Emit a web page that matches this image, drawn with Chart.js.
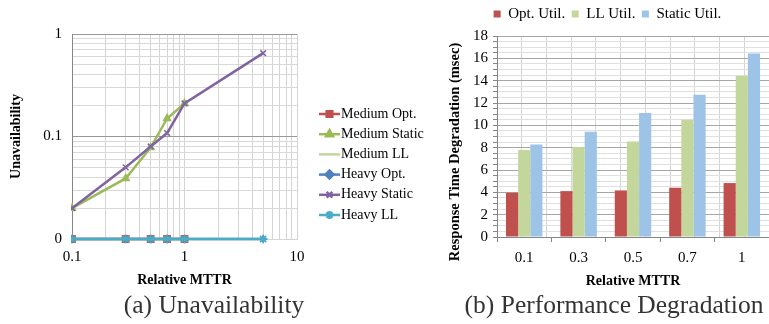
<!DOCTYPE html>
<html lang="en">
<head>
<meta charset="UTF-8">
<title>Unavailability and Performance Degradation</title>
<script src="https://cdn.jsdelivr.net/npm/chart.js"></script>
<style>
  body { margin: 0; background: #fff; }
  .page { position: relative; width: 769px; height: 324px; overflow: hidden; font-family: "Liberation Serif", serif; }
  .box { position: absolute; top: 0; height: 295px; }
  #boxA { left: 0; width: 430px; }
  #boxB { left: 430px; width: 339px; }
  .caption { position: absolute; top: 290px; height: 30px; line-height: 30px; font-size: 25.5px; color: #333; text-align: center; }
</style>
</head>
<body>
<div class="page">
  <div class="box" id="boxA"><canvas id="grafUnavail"></canvas></div>
  <div class="box" id="boxB"><canvas id="grafPerf"></canvas></div>
  <div class="caption" style="left:0;width:428px">(a) Unavailability</div>
  <div class="caption" style="left:460px;width:308px">(b) Performance Degradation</div>
</div>
<script>
// (a) Unavailability vs relative MTTR (log-log)
const mttrMedium = [0.1, 0.3, 0.5, 0.7, 1];
const mttrHeavy = [0.1, 0.3, 0.5, 0.7, 1, 5];
const mediumOpt = [0.01, 0.01, 0.01, 0.01, 0.01];
const mediumStatic = [0.02, 0.039, 0.078, 0.15, 0.21];
const mediumLL = [0.01, 0.01, 0.01, 0.01, 0.01];
const heavyOpt = [0.01, 0.01, 0.01, 0.01, 0.01, 0.01];
const heavyStatic = [0.02, 0.05, 0.08, 0.108, 0.21, 0.65];
const heavyLL = [0.01, 0.01, 0.01, 0.01, 0.01, 0.01];
const unavailTicks = [0.01, 0.1, 1];
const unavailTickLabels = ['0', '0.1', '1'];
const mttrTicks = [0.1, 1, 10];
const mttrTickLabels = ['0.1', '1', '10'];

// (b) Response time degradation per relative MTTR
const mttrCategories = ['0.1', '0.3', '0.5', '0.7', '1'];
const optUtil = [3.96, 4.11, 4.17, 4.41, 4.83];
const llUtil = [7.8, 8.07, 8.55, 10.5, 14.43];
const staticUtil = [8.28, 9.42, 11.1, 12.75, 16.44];

const SERIF = '"Liberation Serif", "Times New Roman", serif';
Chart.defaults.font.family = SERIF;
Chart.defaults.color = '#000';

function pts(xs, ys) {
  return xs.map((x, i) => ({ x: x, y: ys[i] }));
}

// 1..9 x 10^n grid between two decades
function logGrid(lo, hi) {
  const out = [];
  for (let d = lo; d < hi * 0.999; d *= 10) {
    for (let k = 1; k < 10; k++) out.push(+(d * k).toPrecision(3));
  }
  out.push(hi);
  return out;
}

function line(label, xs, ys, color, style, radius, order) {
  return {
    label: label,
    data: pts(xs, ys),
    borderColor: color,
    backgroundColor: color,
    borderWidth: 2.5,
    pointStyle: style,
    pointRadius: radius,
    pointBorderWidth: 1.5,
    clip: { left: 1, top: 10, right: 10, bottom: 10 },
    order: order
  };
}

// legend drawn as line + marker like the original
const lineLegend = {
  id: 'lineLegend',
  afterDraw(chart) {
    const ctx = chart.ctx;
    ctx.save();
    chart.data.datasets.forEach((ds, i) => {
      const y = 114 + i * 20.2;
      ctx.strokeStyle = ds.borderColor;
      ctx.lineWidth = 2.5;
      ctx.beginPath();
      ctx.moveTo(319, y);
      ctx.lineTo(340, y);
      ctx.stroke();
      if (ds.pointStyle) {
        ctx.fillStyle = ds.backgroundColor;
        Chart.helpers.drawPoint(ctx, { pointStyle: ds.pointStyle, radius: 4, borderWidth: 1.5, rotation: 0 }, 329.5, y);
      }
      ctx.fillStyle = '#000';
      ctx.font = '14px ' + SERIF;
      ctx.textBaseline = 'middle';
      ctx.textAlign = 'left';
      ctx.fillText(ds.label, 341, y);
    });
    ctx.restore();
  }
};

new Chart(grafUnavail, {
  type: 'line',
  data: {
    datasets: [
      line('Medium Opt.', mttrMedium, mediumOpt, '#C0504D', 'rect', 4.5, 6),
      line('Medium Static', mttrMedium, mediumStatic, '#9BBB59', 'triangle', 4, 5),
      line('Medium LL', mttrMedium, mediumLL, '#C3D69B', false, 0, 4),
      line('Heavy Opt.', mttrHeavy, heavyOpt, '#4F81BD', 'rectRot', 3, 3),
      line('Heavy Static', mttrHeavy, heavyStatic, '#8064A2', 'crossRot', 4, 2),
      line('Heavy LL', mttrHeavy, heavyLL, '#4BACC6', 'star', 4.5, 1)
    ]
  },
  options: {
    responsive: true,
    maintainAspectRatio: false,
    animation: false,
    layout: { padding: { left: 0, top: 34, right: 133, bottom: 0 } },
    plugins: { legend: { display: false }, tooltip: { enabled: false } },
    scales: {
      x: {
        type: 'logarithmic',
        min: 0.1,
        max: 10,
        afterBuildTicks: s => { s.ticks = logGrid(0.1, 10).map(v => ({ value: v, major: mttrTicks.includes(v) })); },
        afterFit: s => { s.height = 56; },
        ticks: {
          autoSkip: false,
          maxRotation: 0,
          padding: 9,
          font: { size: 15 },
          callback: v => { const i = mttrTicks.indexOf(v); return i >= 0 ? mttrTickLabels[i] : ''; }
        },
        grid: { color: '#d4d4d4', drawTicks: false },
        border: { color: '#d4d4d4' },
        title: { display: true, text: 'Relative MTTR', font: { size: 14, weight: 'bold' }, padding: { top: 0, bottom: 6 } }
      },
      y: {
        type: 'logarithmic',
        min: 0.01,
        max: 1,
        afterBuildTicks: s => { s.ticks = logGrid(0.01, 1).map(v => ({ value: v, major: unavailTicks.includes(v) })); },
        afterFit: s => { s.width = 72; },
        ticks: {
          autoSkip: false,
          padding: 10,
          font: { size: 15 },
          callback: v => { const i = unavailTicks.indexOf(v); return i >= 0 ? unavailTickLabels[i] : ''; }
        },
        grid: { color: c => (c.tick && c.tick.major ? '#999999' : '#d9d9d9'), drawTicks: false },
        border: { color: '#868686', width: 1 },
        title: { display: true, text: 'Unavailability', font: { size: 14, weight: 'bold' }, padding: { top: 8, bottom: 0 } }
      }
    }
  },
  plugins: [lineLegend]
});

// y title for the bar chart, placed like the original
const perfTitle = {
  id: 'perfTitle',
  afterDraw(chart) {
    const ctx = chart.ctx;
    ctx.save();
    ctx.translate(25, 152);
    ctx.rotate(-Math.PI / 2);
    ctx.font = 'bold 14.5px ' + SERIF;
    ctx.fillStyle = '#000';
    ctx.textAlign = 'center';
    ctx.textBaseline = 'middle';
    ctx.fillText('Response Time Degradation (msec)', 0, 0);
    ctx.restore();
  }
};

new Chart(grafPerf, {
  type: 'bar',
  data: {
    labels: mttrCategories,
    datasets: [
      { label: 'Opt. Util.', data: optUtil, backgroundColor: '#C0504D' },
      { label: 'LL Util.', data: llUtil, backgroundColor: '#C3D69B' },
      { label: 'Static Util.', data: staticUtil, backgroundColor: '#9DC3E6' }
    ]
  },
  options: {
    responsive: true,
    maintainAspectRatio: false,
    animation: false,
    categoryPercentage: 0.67,
    barPercentage: 1.0,
    layout: { padding: { left: 16, top: 0, right: 0, bottom: 0 } },
    plugins: {
      tooltip: { enabled: false },
      legend: {
        position: 'top',
        labels: { boxWidth: 7, boxHeight: 7, padding: 6.5, font: { size: 15 }, color: '#000' }
      }
    },
    scales: {
      x: {
        afterFit: s => { s.height = 58; },
        ticks: { padding: 7, font: { size: 15 }, maxRotation: 0 },
        grid: { drawOnChartArea: false, tickLength: 5, color: '#868686' },
        border: { color: '#868686' },
        title: { display: true, text: 'Relative MTTR', font: { size: 14, weight: 'bold' }, padding: { top: 0, bottom: 5 } }
      },
      x2: {
        type: 'linear',
        position: 'top',
        min: 0,
        max: 10,
        afterFit: s => { s.height = 4.5; },
        ticks: { display: false, stepSize: 1 },
        grid: { color: '#d4d4d4', drawTicks: false },
        border: { display: false }
      },
      y: {
        min: 0,
        max: 18,
        afterFit: s => { s.width = 51; },
        ticks: {
          stepSize: 0.5,
          autoSkip: false,
          padding: 5,
          font: { size: 15 },
          callback: v => (v % 2 === 0 ? v : '')
        },
        grid: {
          color: c => (c.tick && c.tick.value % 2 === 0 ? '#a6a6a6' : '#e0e0e0'),
          tickColor: '#868686',
          tickLength: 4
        },
        border: { color: '#868686' }
      }
    }
  },
  plugins: [perfTitle]
});
</script>
</body>
</html>
